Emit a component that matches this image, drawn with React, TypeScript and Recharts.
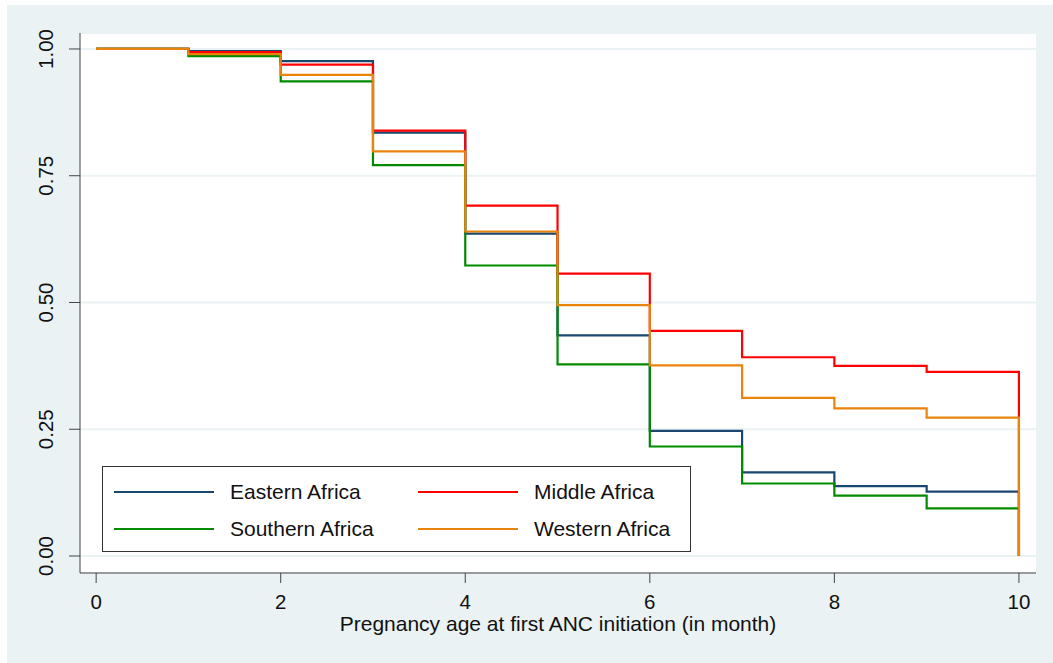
import React from "react"
import { CartesianGrid, Legend, Line, LineChart, XAxis, YAxis } from "recharts"

const months = [0, 1, 2, 3, 4, 5, 6, 7, 8, 9, 10]
const eastern = [1, 0.996, 0.976, 0.835, 0.636, 0.435, 0.247, 0.165, 0.138, 0.127, 0]
const middle = [1, 0.994, 0.969, 0.839, 0.691, 0.557, 0.444, 0.392, 0.375, 0.363, 0]
const southern = [1, 0.986, 0.936, 0.771, 0.573, 0.378, 0.216, 0.143, 0.119, 0.094, 0]
const western = [1, 0.99, 0.949, 0.798, 0.64, 0.495, 0.376, 0.312, 0.291, 0.273, 0]

const xTicks = [0, 2, 4, 6, 8, 10]
const yTicks = [0, 0.25, 0.5, 0.75, 1]

const series = [
  { key: "eastern", name: "Eastern Africa", color: "#1a476f" },
  { key: "middle", name: "Middle Africa", color: "#ff0000" },
  { key: "southern", name: "Southern Africa", color: "#008a00" },
  { key: "western", name: "Western Africa", color: "#e8830c" },
]

const data = months.map((m, i) => ({
  month: m,
  eastern: eastern[i],
  middle: middle[i],
  southern: southern[i],
  western: western[i],
}))

const font = "'Liberation Sans', Arial, sans-serif"
const axisColor = "#444"

function YTick(props: any) {
  const { x, y, payload } = props
  const bx = x - 14
  return (
    <text
      x={bx}
      y={y}
      transform={`rotate(-90, ${bx}, ${y})`}
      textAnchor="middle"
      fontSize={20.5}
      fontFamily={font}
      fill="#111"
    >
      {payload.value.toFixed(2)}
    </text>
  )
}

function LegendBox() {
  return (
    <div
      style={{
        width: 587,
        height: 84,
        border: "1px solid #333",
        background: "#fff",
        position: "relative",
        fontFamily: font,
        fontSize: 21,
        color: "#111",
      }}
    >
      {series.map((s, i) => {
        const col = i % 2
        const row = Math.floor(i / 2)
        const left = col === 0 ? 11 : 315
        const top = row === 0 ? 25 : 62
        return (
          <div key={s.key}>
            <div
              style={{
                position: "absolute",
                left,
                top: top - 1,
                width: 100,
                height: 2.4,
                background: s.color,
              }}
            />
            <div
              style={{
                position: "absolute",
                left: left + 116,
                top: top - 12,
                lineHeight: "24px",
                whiteSpace: "nowrap",
              }}
            >
              {s.name}
            </div>
          </div>
        )
      })}
    </div>
  )
}

export default function App() {
  return (
    <div style={{ position: "absolute", left: 0, top: 0, width: 1053, height: 663, background: "#fff" }}>
      <div style={{ position: "absolute", left: 7, top: 5, right: 0, bottom: 0, background: "#eaf2f3" }} />
      <div style={{ position: "absolute", left: 0, top: 0 }}>
        <LineChart width={1053} height={663} data={data} margin={{ top: 33, right: 17, left: 10, bottom: 30 }}>
          <CartesianGrid vertical={false} stroke="#eaf2f3" strokeWidth={2} fill="#fff" fillOpacity={1} />
          <XAxis
            dataKey="month"
            type="number"
            domain={[-0.175, 10.185]}
            ticks={xTicks}
            allowDataOverflow
            height={60}
            tickSize={10}
            tickMargin={11}
            stroke={axisColor}
            tick={{ fill: "#111", fontSize: 20.5, fontFamily: font }}
            label={{
              value: "Pregnancy age at first ANC initiation (in month)",
              position: "insideBottom",
              offset: 2,
              fill: "#111",
              fontSize: 21,
              fontFamily: font,
            }}
          />
          <YAxis
            type="number"
            domain={[-0.0335, 1.0315]}
            ticks={yTicks}
            allowDataOverflow
            width={70}
            tickSize={11}
            stroke={axisColor}
            tick={<YTick />}
          />
          <Legend
            layout="vertical"
            align="center"
            verticalAlign="middle"
            wrapperStyle={{ left: 102, top: 466, width: 589, height: 86 }}
            content={() => <LegendBox />}
          />
          {series.map((s) => (
            <Line
              key={s.key}
              type="stepAfter"
              dataKey={s.key}
              name={s.name}
              stroke={s.color}
              strokeWidth={2.2}
              dot={false}
              activeDot={false}
              isAnimationActive={false}
            />
          ))}
        </LineChart>
      </div>
    </div>
  )
}
